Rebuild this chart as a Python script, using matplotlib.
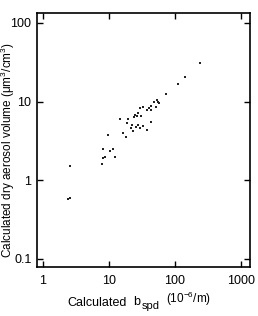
import matplotlib
matplotlib.use("Agg")
import matplotlib.pyplot as plt

# calculated b_spd (1e-6/m) vs calculated dry aerosol volume (um3/cm3)
bspd = [239, 142, 112, 72, 53, 55, 48, 57, 52, 44, 41, 37, 43, 33, 29.5,
        27.8, 24.8, 26.3, 23.9, 31, 19.6, 14.7, 18.5, 22, 27.8, 33, 37,
        29.5, 26, 16.1, 18.1, 21.3, 23.4, 43, 9.8, 8.0, 10.4, 11.4, 12.3,
        8.2, 8.7, 7.7, 2.56, 2.42, 2.56]
volume = [30.9, 20.5, 16.9, 12.4, 10.6, 10.0, 10.0, 9.7, 8.6, 8.9, 8.3, 7.9,
          7.9, 8.6, 8.3, 7.2, 6.8, 6.5, 6.4, 6.6, 6.0, 6.0, 5.4, 5.0, 5.0,
          4.9, 4.4, 4.6, 4.7, 4.0, 3.6, 4.6, 4.2, 5.5, 3.8, 2.5, 2.35, 2.5,
          2.0, 1.94, 2.0, 1.59, 1.52, 0.575, 0.59]

xticks = [1, 10, 100, 1000]
yticks = [0.1, 1, 10, 100]

plt.rcParams["font.family"] = ["Liberation Sans", "DejaVu Sans"]
plt.rcParams["mathtext.fontset"] = "custom"
plt.rcParams["mathtext.rm"] = "Liberation Sans"

fig = plt.figure(figsize=(2.58, 3.16), dpi=100)
ax = fig.add_axes([37 / 258, 1 - 267 / 316, 213 / 258, 254 / 316])

ax.scatter(bspd, volume, s=2, marker="s", color="#222222", linewidths=0)

ax.set_xscale("log")
ax.set_yscale("log")
ax.set_xlim(0.81, 1370)
ax.set_ylim(0.079, 134)
ax.set_xticks(xticks)
ax.set_xticklabels(["1", "10", "100", "1000"])
ax.set_yticks(yticks)
ax.set_yticklabels(["0.1", "1", "10", "100"])
ax.minorticks_off()
ax.tick_params(direction="in", length=4, width=1, labelsize=9,
               top=True, right=True)
ax.tick_params(axis="x", pad=6)
ax.tick_params(axis="y", pad=4)
for sp in ax.spines.values():
    sp.set_linewidth(1.2)

# x label in pieces: larger subscript, unit a little higher and smaller
fig.text(127 / 258, 1 - 303 / 316, "Calculated",
         ha="right", va="center", fontsize=9)
fig.text(133 / 258, 1 - 302 / 316, "b",
         ha="left", va="center", fontsize=9)
fig.text(141.5 / 258, 1 - 306 / 316, "spd",
         ha="left", va="center", fontsize=8)
fig.text(166 / 258, 1 - 299 / 316,
         r"(10$^{-6}$/m)",
         ha="left", va="center", fontsize=8.5)
fig.text(8 / 258, 1 - 150 / 316,
         "Calculated dry aerosol volume (\u03bcm$^3$/cm$^3$)",
         ha="center", va="center", rotation=90, fontsize=8.5)

fig.savefig("out.png", dpi=100)
